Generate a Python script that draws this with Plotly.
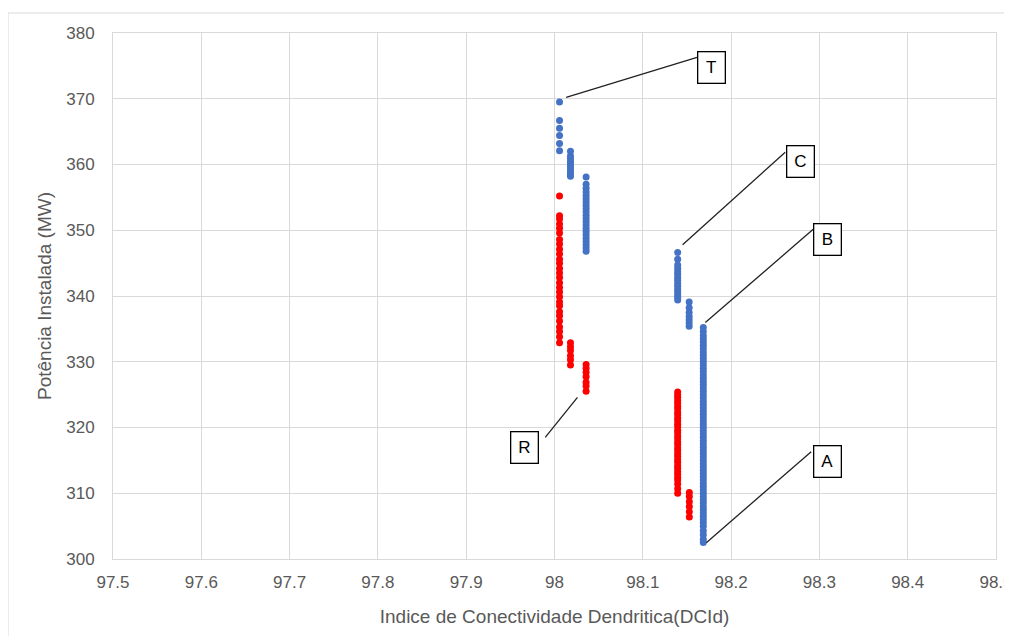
import plotly.graph_objects as go

# ---- data ----
# blue series columns (DCId value, list of installed power values)
blue_x1 = 98.0057
blue_y1 = [369.5, 366.7, 365.5, 364.4, 363.2, 362.1]
blue_x2 = 98.0181
blue_y2 = [362.0, 361.3, 360.9, 360.5, 360.1, 359.7, 359.3, 358.9, 358.5, 358.2]
blue_x3 = 98.0358
blue_y3 = [358.1, 357.0, 356.4, 355.8, 355.3, 354.8, 354.3, 353.8, 353.3, 352.8,
           352.3, 351.8, 351.3, 350.8, 350.3, 349.8, 349.3, 348.8, 348.3, 347.8,
           347.3, 346.8]
blue_x4 = 98.1395
blue_y4 = [346.6, 345.6, 344.7, 344.2, 343.7, 343.3, 342.8, 342.4, 341.9, 341.5,
           341.0, 340.6, 340.2, 339.8, 339.4]
blue_x5 = 98.1525
blue_y5 = [339.1, 338.2, 337.5, 336.9, 336.4, 335.9, 335.4]
blue_x6 = 98.1685
blue_y6 = [335.2, 334.6, 334.0, 333.5, 333.0, 332.5, 332.0, 331.5, 331.0, 330.5,
           330.0, 329.5, 329.0, 328.5, 328.0, 327.5, 327.0, 326.5, 326.0, 325.5,
           325.0, 324.5, 324.0, 323.5, 323.0, 322.5, 322.0, 321.5, 321.0, 320.5,
           320.0, 319.5, 319.0, 318.5, 318.0, 317.5, 317.0, 316.5, 316.0, 315.5,
           315.0, 314.5, 314.0, 313.5, 313.0, 312.5, 312.0, 311.5, 311.0, 310.5,
           310.0, 309.5, 309.0, 308.5, 308.0, 307.5, 307.0, 306.5, 306.0, 305.5,
           305.0, 304.3, 303.7, 303.0, 302.5]

# red series columns
red_x1 = 98.0057
red_y1 = [355.2, 352.2, 351.7, 350.95, 350.3, 349.6, 348.6, 347.9, 347.1, 346.4,
          345.6, 345.0, 344.2, 343.5, 342.8, 342.0, 341.3, 340.6, 339.9, 339.1,
          338.5, 337.6, 337.0, 336.2, 335.3, 334.6, 333.8, 332.9]
red_x2 = 98.0181
red_y2 = [332.9, 332.3, 331.7, 330.9, 330.3, 329.5]
red_x3 = 98.0358
red_y3 = [329.6, 329.0, 328.4, 327.7, 326.9, 326.3, 325.5]
red_x4 = 98.1395
red_y4 = [325.4, 325.0, 324.6, 324.1, 323.7, 323.2, 322.8, 322.3, 321.9, 321.4,
          321.0, 320.5, 320.1, 319.6, 319.2, 318.7, 318.3, 317.8, 317.4, 316.9,
          316.5, 316.0, 315.6, 315.1, 314.7, 314.2, 313.8, 313.3, 312.9, 312.4,
          312.0, 311.4, 310.7, 310.0]
red_x5 = 98.1527
red_y5 = [310.1, 309.5, 308.7, 308.0, 307.2, 306.4]

# labels: text, box centre (x, y), leader line start (x, y), leader line end (x, y)
label_text = ["T", "C", "B", "R", "A"]
label_box_x = [98.1775, 98.2789, 98.3090, 97.9663, 98.3092]
label_box_y = [374.69, 360.43, 348.62, 317.00, 314.88]
line_x0 = [98.0132, 98.1451, 98.1708, 97.9895, 98.1719]
line_y0 = [370.22, 347.80, 335.97, 318.51, 302.48]
line_x1 = [98.1614, 98.2613, 98.2930, 98.0260, 98.2907]
line_y1 = [376.30, 361.86, 350.14, 324.59, 316.32]

x_ticks = [97.5, 97.6, 97.7, 97.8, 97.9, 98.0, 98.1, 98.2, 98.3, 98.4, 98.5]
x_tick_labels = ["97.5", "97.6", "97.7", "97.8", "97.9", "98", "98.1", "98.2", "98.3", "98.4", "98.5"]
y_ticks = [300, 310, 320, 330, 340, 350, 360, 370, 380]

# ---- build ----
def expand(cols):
    xs, ys = [], []
    for cx, cy in cols:
        xs += [cx] * len(cy)
        ys += cy
    return xs, ys

bx, by = expand([(blue_x1, blue_y1), (blue_x2, blue_y2), (blue_x3, blue_y3),
                 (blue_x4, blue_y4), (blue_x5, blue_y5), (blue_x6, blue_y6)])
rx, ry = expand([(red_x1, red_y1), (red_x2, red_y2), (red_x3, red_y3),
                 (red_x4, red_y4), (red_x5, red_y5)])

FONT = "Liberation Sans, Arial, sans-serif"
fig = go.Figure()
fig.add_trace(go.Scatter(x=bx, y=by, mode="markers",
                         marker=dict(color="#4472C4", size=7, line=dict(width=0)),
                         showlegend=False))
fig.add_trace(go.Scatter(x=rx, y=ry, mode="markers",
                         marker=dict(color="#FF0000", size=7, line=dict(width=0)),
                         showlegend=False))

shapes = []
for i in range(len(label_text)):
    shapes.append(dict(type="line", xref="x", yref="y",
                       x0=line_x0[i], y0=line_y0[i], x1=line_x1[i], y1=line_y1[i],
                       line=dict(color="#222222", width=1.3)))
# outer chart border (left and top visible)
shapes.append(dict(type="line", xref="paper", yref="paper",
                   x0=-0.1189, x1=1.05, y0=1.0380, y1=1.0380,
                   line=dict(color="#D9D9D9", width=1)))
shapes.append(dict(type="line", xref="paper", yref="paper",
                   x0=-0.1189, x1=-0.1189, y0=1.0380, y1=-0.2,
                   line=dict(color="#D9D9D9", width=1)))

annotations = []
for i in range(len(label_text)):
    annotations.append(dict(x=label_box_x[i], y=label_box_y[i], xref="x", yref="y",
                            text=label_text[i], showarrow=False,
                            font=dict(family=FONT, size=17, color="#000000"),
                            bgcolor="white", bordercolor="#000000", borderwidth=1.3,
                            borderpad=2, width=22, height=26))

fig.update_layout(
    width=1004, height=628,
    margin=dict(l=105, r=16, t=25, b=77, autoexpand=False),
    paper_bgcolor="white", plot_bgcolor="white",
    font=dict(family=FONT, size=17, color="#595959"),
    shapes=shapes, annotations=annotations,
    xaxis=dict(range=[97.5, 98.5], tickvals=x_ticks, ticktext=x_tick_labels,
               showgrid=True, gridcolor="#D9D9D9", gridwidth=1, automargin=False,
               zeroline=False, showline=True, linecolor="#D9D9D9", mirror=True,
               ticks="outside", ticklen=8, tickcolor="rgba(0,0,0,0)",
               ticklabeloverflow="allow",
               tickfont=dict(size=17, color="#595959"),
               title=dict(text="Indice de Conectividade Dendritica(DCId)",
                          font=dict(size=19, color="#595959"), standoff=18)),
    yaxis=dict(range=[300, 380], tickvals=y_ticks,
               showgrid=True, gridcolor="#D9D9D9", gridwidth=1, automargin=False,
               zeroline=False, showline=True, linecolor="#D9D9D9", mirror=True,
               ticks="outside", ticklen=14, tickcolor="rgba(0,0,0,0)",
               ticklabeloverflow="allow",
               tickfont=dict(size=17, color="#595959"),
               title=dict(text="Potência Instalada (MW)",
                          font=dict(size=19, color="#595959"), standoff=9)),
)

fig.write_html("out.html")
